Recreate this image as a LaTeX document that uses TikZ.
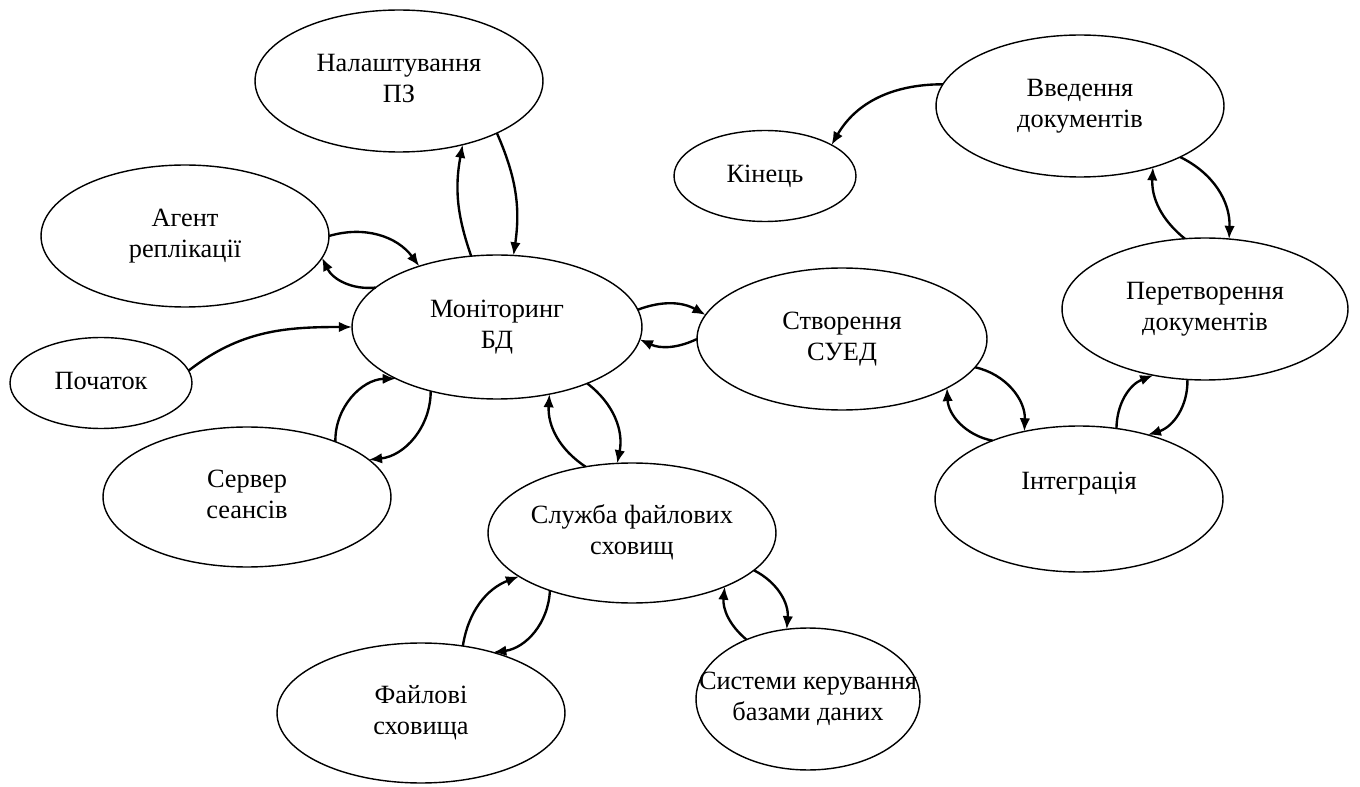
\documentclass[tikz,border=0pt]{standalone}
\usepackage{fontspec}
\setmainfont{Liberation Serif}
\usetikzlibrary{shapes.geometric,arrows.meta}
% centred label of zero width, so the ellipse size comes from its own keys
\newcommand\tx[1]{\makebox[0pt]{\begin{tabular}{@{}c@{}}#1\end{tabular}}}
\begin{document}
\begin{tikzpicture}[x=0.02cm,y=-0.02cm,
  font=\fontsize{15pt}{17.2pt}\selectfont,
  st/.style={ellipse,draw,line width=0.8pt,inner sep=0pt,outer sep=0pt,
             minimum width=5.76cm,minimum height=2.84cm},
  sm/.style={st,minimum width=3.64cm,minimum height=1.82cm},
  arr/.style={line width=1.35pt,-{Latex[length=7.5pt,width=6pt]}}]
\useasboundingbox[fill=white] (0,0) rectangle (1360,787);

% states
\node[st] (nal)    at (399,81)   {\tx{Налаштування\\ПЗ}};
\node[st] (agent)  at (185,236)  {\tx{Агент\\реплікації}};
\node[sm] (poch)   at (101,383)  {\tx{Початок}};
\node[st,minimum width=5.8cm,minimum height=2.88cm] (mon) at (497,327) {\tx{Моніторинг\\БД}};
\node[st,minimum height=2.8cm] (serv)   at (247,497)  {\tx{Сервер\\сеансів}};
\node[st,minimum height=2.8cm] (sluzh)  at (632,533)  {\tx{Служба файлових\\сховищ}};
\node[st,minimum height=2.8cm] (fayl)   at (421,713)  {\tx{Файлові\\сховища}};
\node[st,minimum width=4.48cm] (syst)   at (808,699)  {\tx{Системи керування\\базами даних}};
\node[st,minimum width=5.8cm] (stvor)  at (842,339)  {\tx{Створення\\СУЕД}};
\node[st,minimum height=2.92cm] (integr) at (1079,499) {\tx{Інтеграція\\\mbox{}}};
\node[st,minimum width=5.72cm] (peretv) at (1205,309) {\tx{Перетворення\\документів}};
\node[st] (vved)   at (1080,106) {\tx{Введення\\документів}};
\node[sm] (kin)    at (765,176)  {\tx{Кінець}};

% transitions
\draw[arr] (mon.110)   to[bend left=15] (nal.-45);
\draw[arr] (nal.-28)   to[bend left=16] (mon.77);
\draw[arr] (agent.0)   to[bend left=35] (mon.142);
\draw[arr] (mon.162)   to[bend left=35] (agent.-9);
\draw[arr] (poch.8)    to[out=38,in=180] (mon.180);
\draw[arr] (serv.32)   to[bend left=45] (mon.207);
\draw[arr] (mon.224)   to[bend left=42] (serv.17);
\draw[arr] (mon.7)     to[bend left=25] (stvor.170);
\draw[arr] (stvor.180) to[bend left=25] (mon.-5);
\draw[arr] (sluzh.125) to[bend left=30] (mon.-52);
\draw[arr] (mon.-32)   to[bend left=32] (sluzh.102);
\draw[arr] (fayl.58)   to[bend left=30] (sluzh.201);
\draw[arr] (sluzh.215) to[bend left=40] (fayl.40);
\draw[arr] (syst.136)  to[bend left=28] (sluzh.-30);
\draw[arr] (sluzh.-17) to[bend left=34] (syst.107);
\draw[arr] (stvor.-12) to[bend left=40] (integr.129);
\draw[arr] (integr.146) to[bend left=38] (stvor.-25);
\draw[arr] (integr.62) to[bend left=34] (peretv.232);
\draw[arr] (peretv.256) to[bend left=37] (integr.43);
\draw[arr] (peretv.106) to[bend left=27] (vved.-40);
\draw[arr] (vved.-27)  to[bend left=33] (peretv.71);
\draw[arr] (vved.171)  to[out=180,in=60] (kin.25);
\end{tikzpicture}
\end{document}
